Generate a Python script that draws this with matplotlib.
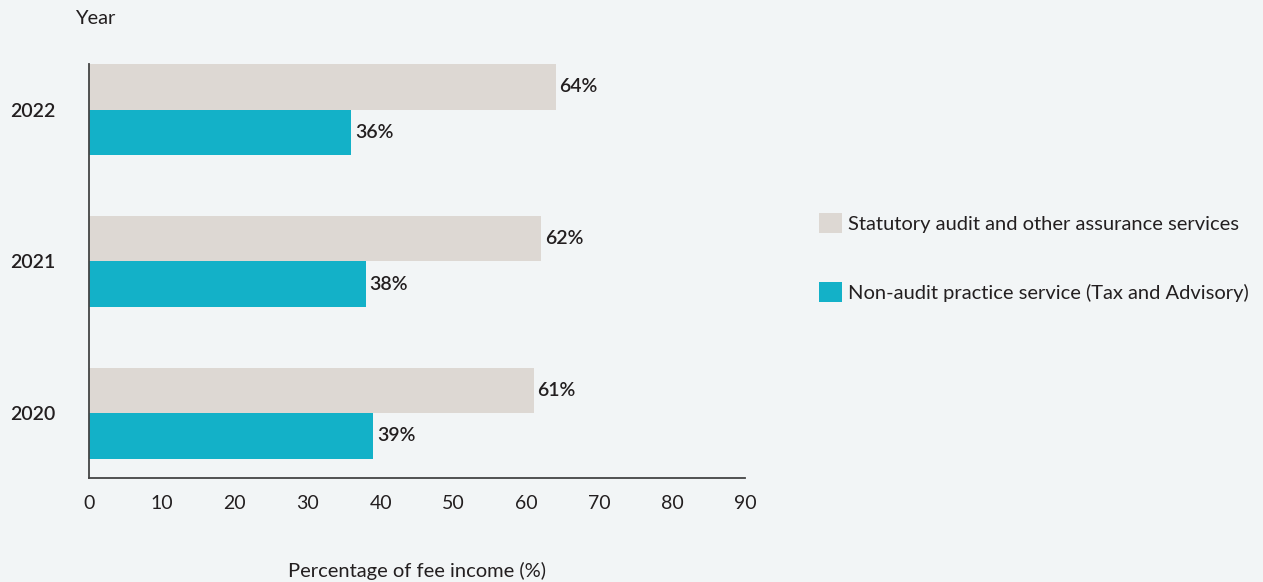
import matplotlib.pyplot as plt
import numpy as np

years = ["2020", "2021", "2022"]
audit_share = [61, 62, 64]
non_audit_share = [39, 38, 36]
series_names = ["Statutory audit and other assurance services",
                "Non-audit practice service (Tax and Advisory)"]

bg = "#f2f5f6"
grey = "#ddd8d3"
teal = "#13b1c8"
ink = "#231f20"

plt.rcParams["font.family"] = ["Lato", "DejaVu Sans"]

fig = plt.figure(figsize=(12.63, 5.82), dpi=100, facecolor=bg)
ax = fig.add_axes([0.0705, 0.1787, 0.5195, 0.7113])
ax.set_facecolor(bg)

y = np.arange(len(years))
h = 0.3
b1 = ax.barh(y + h / 2, audit_share, height=h, color=grey, label=series_names[0])
b2 = ax.barh(y - h / 2, non_audit_share, height=h, color=teal, label=series_names[1])

# value labels at the end of every bar
for bars, vals in ((b1, audit_share), (b2, non_audit_share)):
    for rect, v in zip(bars, vals):
        ax.text(v + 0.5, rect.get_y() + rect.get_height() / 2, f"{v}%",
                va="center", ha="left", fontsize=14, color=ink, fontweight="semibold")

ax.set_xlim(0, 90)
ax.set_ylim(-0.428, 2.3)
ax.set_xticks(range(0, 91, 10))
ax.set_yticks(y)
ax.set_yticklabels(years, fontweight="semibold")
ax.tick_params(axis="x", length=0, pad=12, labelsize=14, labelcolor=ink)
ax.tick_params(axis="y", length=0, pad=24, labelsize=14, labelcolor=ink)

for side in ("top", "right"):
    ax.spines[side].set_visible(False)
for side in ("left", "bottom"):
    ax.spines[side].set_color("#444444")
    ax.spines[side].set_linewidth(1.3)

ax.set_xlabel("Percentage of fee income (%)", fontsize=14.5, color=ink, labelpad=36)
fig.text(75 / 1263, 1 - 18 / 582, "Year", fontsize=14.5, color=ink, va="center", ha="left")

leg = fig.legend(handles=[b1, b2], loc="upper left",
                 bbox_to_anchor=(811 / 1263, 1 - 205 / 582),
                 frameon=False, fontsize=14.5, handlelength=1.15, handleheight=1.15,
                 handletextpad=0.3, labelspacing=2.45, borderaxespad=0)
for t in leg.get_texts():
    t.set_color(ink)

fig.savefig("out.png", dpi=100, facecolor=bg)
